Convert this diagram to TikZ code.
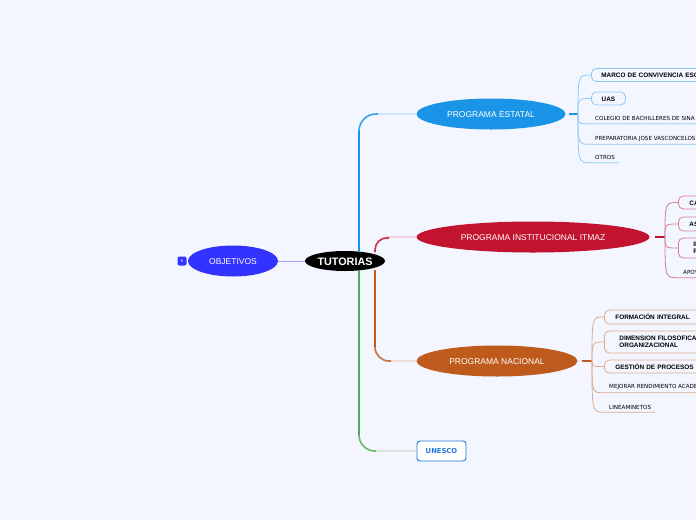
\documentclass[tikz,border=0pt]{standalone}
\usepackage{fontspec}
\setmainfont{Liberation Sans}
\newfontfamily\leaffont{DejaVu Sans}
\usepackage{xcolor}
\usepackage{tikz}
\usetikzlibrary{calc,positioning,shapes.geometric}
\definecolor{pagebg}{RGB}{243,246,255}
\definecolor{objetivos}{RGB}{51,51,255}
\definecolor{estatal}{RGB}{26,148,230}
\definecolor{institucional}{RGB}{194,19,47}
\definecolor{nacional}{RGB}{189,90,28}
\definecolor{unesco}{RGB}{30,120,216}
\definecolor{verde}{RGB}{84,170,84}
\tikzset{
  topicnode/.style={ellipse,inner sep=0pt,minimum height=31pt,text=white,text height=8pt,font=\fontsize{8.5}{10}\selectfont},
  boxnode/.style={draw=#1,fill=pagebg,line width=0.8pt,rounded corners=5pt,anchor=west,inner ysep=0pt,
    text width=130pt,align=left,font=\fontsize{6.4}{7}\selectfont\bfseries},
  leafnode/.style={anchor=west,inner sep=0pt,font=\leaffont\fontsize{5.6}{6}\selectfont},
  limb/.style={line width=0.9pt,rounded corners=#1},
  bend/.style={line width=1.6pt,rounded corners=#1},
  trunk/.style={line width=2.2pt},
  twig/.style={line width=0.8pt}
}
% thin curve from a fan point to a box
\newcommand{\fanbox}[3]{%
  \draw[twig,#3] (#1) .. controls (#1 |- #2.west) .. (#2.west);%
}
% thin curve from a fan point, running on as the underline of a leaf
\newcommand{\fanleaf}[4]{%
  \coordinate (#2start) at ($(#2.south west)+(-4,3)$);%
  \coordinate (#2end) at ($(#2.south west)+(#4,3)$);%
  \draw[twig,#3] (#1) .. controls (#1 |- #2start) .. (#2start) -- (#2end);%
}
\begin{document}
\begin{tikzpicture}[x=1pt,y=-1pt]
  \fill[pagebg] (0,0) rectangle (696,520);
  \useasboundingbox (0,0) rectangle (696,520);

  \node[ellipse,fill=black,inner sep=0pt,minimum width=80pt,minimum height=20pt,text=white,text height=9.5pt,
    font=\fontsize{10.8}{12}\selectfont\bfseries] (tutorias) at (345,261) {TUTORIAS};
  \node[topicnode,fill=objetivos,minimum width=90pt] (objetivos) at (233,261) {OBJETIVOS};
  \node[fill=objetivos,rounded corners=2pt,minimum size=9pt,inner sep=0pt,text=white,
    font=\fontsize{4}{4}\selectfont] (badge) at (182,261) {6};
  \node[topicnode,fill=estatal,minimum width=149pt] (progestatal) at (491,114) {PROGRAMA ESTATAL};
  \node[topicnode,fill=institucional,minimum width=233pt] (proginst) at (533,237) {PROGRAMA INSTITUCIONAL ITMAZ};
  \node[topicnode,fill=nacional,minimum width=161pt] (prognac) at (497,361) {PROGRAMA NACIONAL};
  \node[draw=unesco,fill=white,line width=0.9pt,rounded corners=3pt,minimum width=49pt,minimum height=20pt,
    inner sep=0pt,text=unesco,font=\leaffont\fontsize{6.8}{7}\selectfont\bfseries] (progunesco) at (441.5,451) {UNESCO};

  % main branches
  \coordinate (tleft) at (359,252);
  \coordinate (tright) at (375,252);
  \coordinate (tleftb) at (359,270);
  \coordinate (trightb) at (375,270);
  \draw[objetivos!45,line width=0.9pt] (objetivos) -- (tutorias);
  \draw[estatal!45,limb=17pt] (tleft) -- (tleft |- progestatal) -- (progestatal.west);
  \draw[estatal!85,bend=17pt] (tleft) -- (tleft |- progestatal) -- (378,114);
  \draw[estatal,trunk] (tleft) -- (359,131);
  \draw[institucional!45,limb=13pt] (tright) -- (tright |- proginst) -- (proginst.west);
  \draw[institucional!85,bend=13pt] (tright) -- (tright |- proginst) -- (389,238);
  \draw[nacional!45,limb=14pt] (trightb) -- (trightb |- prognac) -- (prognac.west);
  \draw[nacional!85,bend=14pt] (trightb) -- (trightb |- prognac) -- (391,361);
  \draw[nacional,trunk] (trightb) -- (375,347);
  \draw[verde!55,limb=16pt] (tleftb) -- (tleftb |- progunesco) -- (progunesco.west);
  \draw[verde!85,bend=16pt] (tleftb) -- (tleftb |- progunesco) -- (376,451);
  \draw[verde,trunk] (tleftb) -- (359,435);

  % estatal
  \coordinate (fanestatal) at (578,114);
  \draw[estatal,line width=1.2pt,shorten <=3pt] (progestatal.east) -- (fanestatal);
  \node[boxnode=estatal!50,inner xsep=10pt,minimum height=13pt,text height=5.5pt] (marco) at (591,75) {MARCO DE CONVIVENCIA ESC};
  \node[draw=estatal!50,fill=pagebg,line width=0.8pt,rounded corners=5pt,minimum width=34pt,minimum height=13pt,
    inner sep=0pt,anchor=west,text height=5.5pt,font=\fontsize{6.4}{7}\selectfont\bfseries] (uas) at (591,98.5) {UAS};
  \node[leafnode] (colegio) at (595,118.5) {COLEGIO DE BACHILLERES DE SINA};
  \node[leafnode] (prepa) at (595,138.5) {PREPARATORIA JOSE VASCONCELOS};
  \node[leafnode] (otros) at (595,157.5) {OTROS};
  \fanbox{fanestatal}{marco}{estatal!50}
  \fanbox{fanestatal}{uas}{estatal!50}
  \fanleaf{fanestatal}{colegio}{estatal!50}{110}
  \fanleaf{fanestatal}{prepa}{estatal!50}{110}
  \fanleaf{fanestatal}{otros}{estatal!50}{24}

  % institucional
  \coordinate (faninst) at (665,237);
  \draw[institucional,line width=1.2pt,shorten <=5pt] (proginst.east) -- (faninst);
  \node[boxnode=institucional!55,inner xsep=11pt,minimum height=13pt,text height=5.5pt] (ca) at (678,202.5) {CA};
  \node[boxnode=institucional!55,inner xsep=11pt,minimum height=14pt,text height=5.5pt] (as) at (678,224) {AS};
  \node[boxnode=institucional!55,inner xsep=15pt,minimum height=20pt] (inr) at (678,248) {IN\\R};
  \node[leafnode] (apoy) at (683,272.5) {APOY};
  \fanbox{faninst}{ca}{institucional!55}
  \fanbox{faninst}{as}{institucional!55}
  \fanbox{faninst}{inr}{institucional!55}
  \fanleaf{faninst}{apoy}{institucional!55}{40}

  % nacional
  \coordinate (fannac) at (592,361);
  \draw[nacional,line width=1.2pt,shorten <=4pt] (prognac.east) -- (fannac);
  \node[boxnode=nacional!50,inner xsep=11pt,minimum height=14pt,text height=5.5pt] (formacion) at (604,317) {FORMACIÓN INTEGRAL};
  \node[boxnode=nacional!50,inner xsep=15pt,minimum height=22pt] (dimension) at (604,342) {DIMENSION FILOSOFICA\\ORGANIZACIONAL};
  \node[boxnode=nacional!50,inner xsep=11pt,minimum height=13pt,text height=5.5pt] (gestion) at (604,366.5) {GESTIÓN DE PROCESOS};
  \node[leafnode] (mejorar) at (609,387) {MEJORAR RENDIMIENTO ACADE};
  \node[leafnode] (linea) at (609,407) {LINEAMINETOS};
  \fanbox{fannac}{formacion}{nacional!50}
  \fanbox{fannac}{dimension}{nacional!50}
  \fanbox{fannac}{gestion}{nacional!50}
  \fanleaf{fannac}{mejorar}{nacional!50}{95}
  \fanleaf{fannac}{linea}{nacional!50}{46}
\end{tikzpicture}
\end{document}
